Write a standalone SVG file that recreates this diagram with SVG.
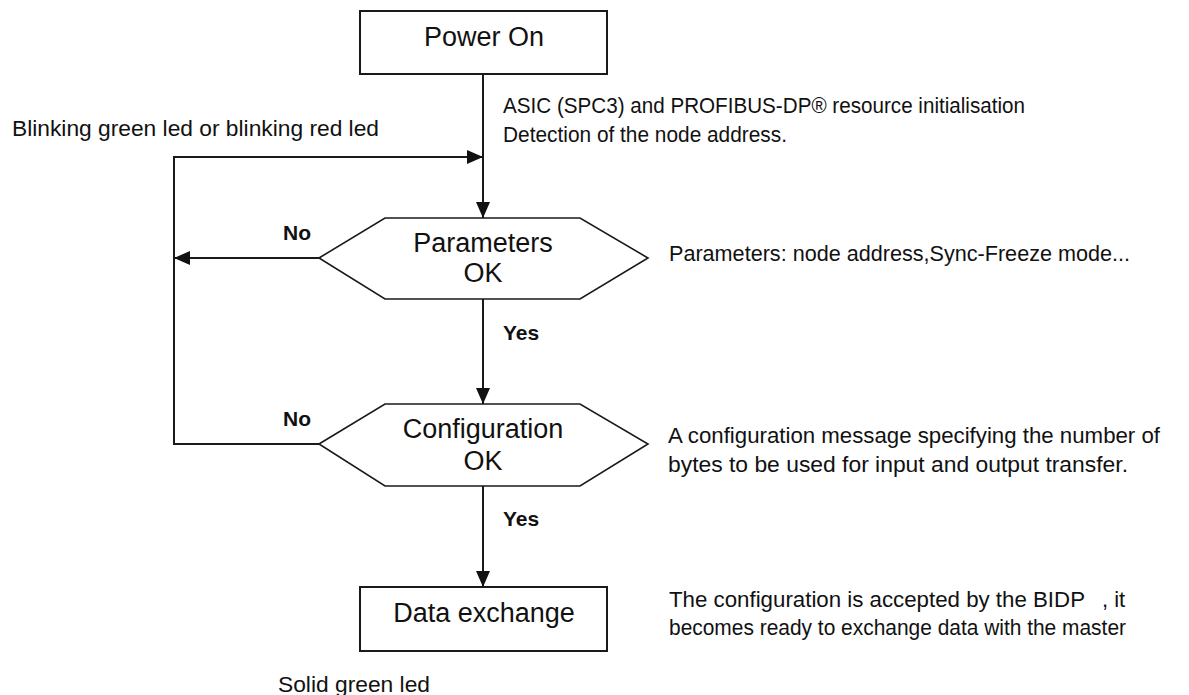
<svg xmlns="http://www.w3.org/2000/svg" width="1189" height="695" viewBox="0 0 1189 695">
<defs>
<style>
.box{fill:#fff;stroke:#1a1a1a;stroke-width:2}
.hex{fill:#fff;stroke:#1a1a1a;stroke-width:1.6}
.ln{fill:none;stroke:#1a1a1a;stroke-width:2}
.nt{font-family:"Liberation Sans",Arial,sans-serif;font-size:27px;fill:#111;text-anchor:middle}
.an{font-family:"Liberation Sans",Arial,sans-serif;font-size:22px;fill:#111}
.lb{font-family:"Liberation Sans",Arial,sans-serif;font-size:21px;font-weight:bold;fill:#111}
</style>
<marker id="ah" viewBox="0 0 16 14" refX="16" refY="7" markerWidth="16" markerHeight="14" markerUnits="userSpaceOnUse" orient="auto">
<path d="M0,0 L16,7 L0,14 Z" fill="#111"/>
</marker>
</defs>
<rect width="1189" height="695" fill="#fff"/>
<g id="connectors">
<path class="ln" d="M483,74 L483,218" marker-end="url(#ah)"/>
<path class="ln" d="M319,444 L174,444 L174,157 L483,157" marker-end="url(#ah)"/>
<path class="ln" d="M319,258 L174,258" marker-end="url(#ah)"/>
<path class="ln" d="M483,299 L483,404" marker-end="url(#ah)"/>
<path class="ln" d="M483,486 L483,587" marker-end="url(#ah)"/>
<text class="lb" x="283" y="240">No</text>
<text class="lb" x="503" y="340">Yes</text>
<text class="lb" x="283" y="426">No</text>
<text class="lb" x="503" y="526">Yes</text>
</g>
<g id="power-on">
<rect class="box" x="360" y="11" width="247" height="63"/>
<text class="nt" x="484" y="46">Power On</text>
</g>
<g id="parameters-ok">
<polygon class="hex" points="319,258 385,218 580,218 648,258 580,299 385,299"/>
<text class="nt" x="483" y="252">Parameters</text>
<text class="nt" x="483" y="282">OK</text>
</g>
<g id="configuration-ok">
<polygon class="hex" points="319,444 385,404 580,404 648,444 580,486 385,486"/>
<text class="nt" x="483" y="438">Configuration</text>
<text class="nt" x="483" y="470">OK</text>
</g>
<g id="data-exchange">
<rect class="box" x="360" y="587" width="247" height="64"/>
<text class="nt" x="484" y="622">Data exchange</text>
</g>
<g id="annotations">
<text class="an" x="503" y="113" textLength="522" lengthAdjust="spacingAndGlyphs">ASIC (SPC3) and PROFIBUS-DP® resource initialisation</text>
<text class="an" x="503" y="142" textLength="284" lengthAdjust="spacingAndGlyphs">Detection of the node address.</text>
<text class="an" x="12" y="136" textLength="367" lengthAdjust="spacingAndGlyphs">Blinking green led or blinking red led</text>
<text class="an" x="669" y="261" textLength="461" lengthAdjust="spacingAndGlyphs">Parameters: node address,Sync-Freeze mode...</text>
<text class="an" x="668" y="443" textLength="492" lengthAdjust="spacingAndGlyphs">A configuration message specifying the number of</text>
<text class="an" x="668" y="472" textLength="460" lengthAdjust="spacingAndGlyphs">bytes to be used for input and output transfer.</text>
<text class="an" x="669" y="607"><tspan textLength="416" lengthAdjust="spacingAndGlyphs">The configuration is accepted by the BIDP</tspan><tspan x="1102">, it</tspan></text>
<text class="an" x="669" y="635" textLength="457" lengthAdjust="spacingAndGlyphs">becomes ready to exchange data with the master</text>
<text class="an" x="278" y="692" textLength="152" lengthAdjust="spacingAndGlyphs">Solid green led</text>
</g>
</svg>
